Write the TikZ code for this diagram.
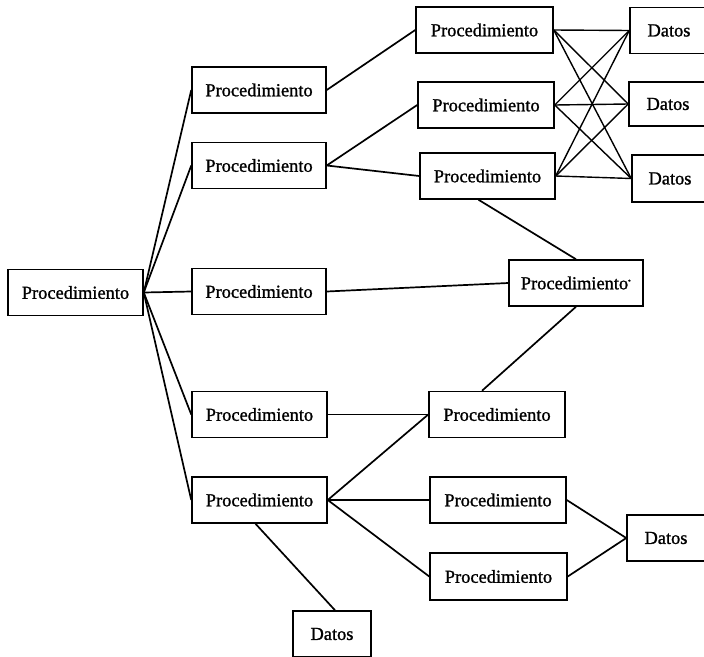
\documentclass[tikz,border=0pt]{standalone}
\usepackage{fontspec}
\setmainfont{Liberation Serif}[RawFeature={embolden=1.2}]
\begin{document}
\begin{tikzpicture}[x=1pt,y=-1pt,
  box/.style={draw=black, line width=1.5pt, minimum height=46pt, inner sep=0pt,
    font=\fontsize{18.4}{21}\selectfont, anchor=center},
  pbox/.style={box, minimum width=136pt},
  dbox/.style={box, minimum width=78pt},
  conn/.style={line width=1.7pt, black}]
\useasboundingbox (0,0) rectangle (704,656);
\node[box, minimum width=135pt] (root) at (75.5,292.5) {Procedimiento};
\node[pbox, minimum width=134pt] (L1a) at (259,90) {Procedimiento};
\node[pbox, minimum width=134pt] (L1b) at (259,165.5) {Procedimiento};
\node[pbox, minimum width=134pt] (L1c) at (259,291.5) {Procedimiento};
\node[pbox, minimum width=135pt] (L1d) at (259.5,414.5) {Procedimiento};
\node[pbox, minimum width=135pt] (L1e) at (259.5,500) {Procedimiento};
\node[pbox, minimum width=137pt] (P1) at (484.5,30) {Procedimiento};
\node[pbox] (P2) at (486,105) {Procedimiento};
\node[pbox, minimum width=135pt] (P3) at (487.5,176) {Procedimiento};
\node[dbox] (D1) at (669,30.5) {Datos};
\node[dbox, minimum height=44pt] (D2) at (668,104) {Datos};
\node[dbox, minimum width=76pt, minimum height=47pt] (D3) at (670,178.5) {Datos};
\node[pbox, minimum width=134pt] (PS) at (576,283) {Procedimiento\textsuperscript{\tiny*}};
\node[pbox] (PM) at (497,414.5) {Procedimiento};
\node[pbox] (PL1) at (498,500) {Procedimiento};
\node[pbox, minimum width=137pt, minimum height=47pt] (PL2) at (498.5,576.5) {Procedimiento};
\node[dbox] (DR) at (666,538) {Datos};
\node[dbox] (DB) at (332,634) {Datos};
% root fan
\foreach \t in {L1a,L1b,L1c,L1d,L1e} \draw[conn] (root.east) -- (\t.west);
\draw[conn] (L1a.east) -- (P1.west);
\draw[conn] (L1b.east) -- (P2.west);
\draw[conn] (L1b.east) -- (P3.west);
\draw[conn] (L1c.east) -- (PS.west);
\foreach \p in {P1,P2,P3} \foreach \d in {D1,D2,D3} \draw[conn, line width=1.4pt] (\p.east) -- (\d.west);
\draw[conn] ([xshift=-9pt]P3.south) -- (PS.north);
\draw[conn] ([xshift=-15pt]PM.north) -- (PS.south);
\draw[conn] (L1d.east) -- (PM.west);
\foreach \t in {PM,PL1,PL2} \draw[conn] (L1e.east) -- (\t.west);
\draw[conn] (PL1.east) -- (DR.west);
\draw[conn] (PL2.east) -- (DR.west);
\draw[conn] ([xshift=-4pt]L1e.south) -- ([xshift=3pt]DB.north);
\end{tikzpicture}
\end{document}
